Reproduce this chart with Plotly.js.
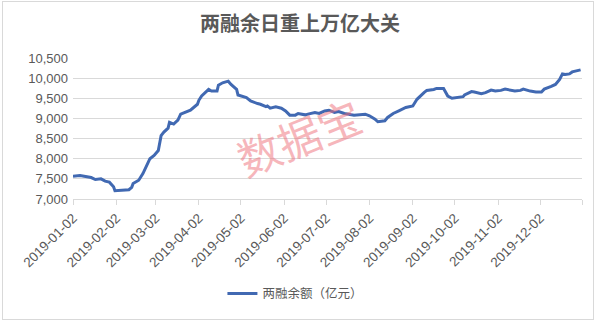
<!DOCTYPE html>
<html>
<head>
<meta charset="utf-8">
<script src="https://cdn.plot.ly/plotly-3.0.1.min.js"></script>
<style>
html,body{margin:0;padding:0;background:#fff;}
#wrap{position:relative;width:600px;height:321px;}
#chart{width:600px;height:321px;}
#border{position:absolute;left:2px;top:1px;width:590px;height:317px;border:1px solid #d9d9d9;pointer-events:none;}
</style>
</head>
<body>
<div id="wrap"><div id="chart"></div><div id="border"></div></div>
<script>
const chartTitle = '两融余日重上万亿大关';
const seriesName = '两融余额（亿元）';
const watermark = '数据宝';

const dates = [
'2019-01-02','2019-01-04','2019-01-07','2019-01-10','2019-01-15','2019-01-18','2019-01-22','2019-01-25','2019-01-28','2019-01-31',
'2019-02-01','2019-02-11','2019-02-13','2019-02-14','2019-02-18','2019-02-21','2019-02-26','2019-03-01','2019-03-04','2019-03-06',
'2019-03-08','2019-03-11','2019-03-12','2019-03-15','2019-03-18','2019-03-20','2019-03-25','2019-03-27','2019-04-01','2019-04-02',
'2019-04-04','2019-04-09','2019-04-11','2019-04-15','2019-04-16','2019-04-19','2019-04-23','2019-04-25','2019-04-29','2019-04-30',
'2019-05-06','2019-05-09','2019-05-14','2019-05-16','2019-05-20','2019-05-21','2019-05-23','2019-05-27','2019-05-31','2019-06-03',
'2019-06-06','2019-06-10','2019-06-12','2019-06-17','2019-06-19','2019-06-24','2019-06-27','2019-07-01','2019-07-04','2019-07-08',
'2019-07-11','2019-07-15','2019-07-22','2019-07-25','2019-07-30','2019-08-02','2019-08-06','2019-08-08','2019-08-13','2019-08-15',
'2019-08-19','2019-08-23','2019-08-28','2019-09-02','2019-09-05','2019-09-10','2019-09-12','2019-09-17','2019-09-19','2019-09-24',
'2019-09-27','2019-09-30','2019-10-08','2019-10-09','2019-10-11','2019-10-14','2019-10-16','2019-10-21','2019-10-24','2019-10-28',
'2019-10-31','2019-11-04','2019-11-07','2019-11-11','2019-11-14','2019-11-18','2019-11-20','2019-11-25','2019-11-29','2019-12-03',
'2019-12-05','2019-12-10','2019-12-13','2019-12-16','2019-12-18','2019-12-20','2019-12-23','2019-12-25','2019-12-31'
];
const balance = [
7565,7570,7582,7565,7533,7484,7500,7443,7418,7304,
7206,7230,7290,7386,7467,7632,8000,8081,8204,8573,
8660,8760,8902,8860,8959,9106,9172,9204,9352,9450,
9556,9720,9680,9680,9826,9885,9925,9843,9720,9581,
9517,9433,9369,9352,9295,9310,9254,9286,9254,9187,
9082,9082,9123,9089,9106,9148,9123,9187,9204,9148,
9172,9123,9082,9089,9106,9065,8983,8917,8942,9025,
9123,9187,9271,9310,9475,9640,9696,9720,9745,9745,
9556,9500,9540,9581,9615,9665,9655,9615,9640,9703,
9679,9696,9728,9696,9679,9696,9728,9679,9655,9655,
9728,9794,9843,9966,10106,10089,10106,10155,10205
];

const tickDates = ['2019-01-02','2019-02-02','2019-03-02','2019-04-02','2019-05-02','2019-06-02',
  '2019-07-02','2019-08-02','2019-09-02','2019-10-02','2019-11-02','2019-12-02','2020-01-01'];
const tickLabels = ['2019-01-02','2019-02-02','2019-03-02','2019-04-02','2019-05-02','2019-06-02',
  '2019-07-02','2019-08-02','2019-09-02','2019-10-02','2019-11-02','2019-12-02',''];
const yTicks = [7000,7500,8000,8500,9000,9500,10000,10500];

const trace = {
  x: dates, y: balance, type: 'scatter', mode: 'lines', name: seriesName,
  line: {color: '#4169B2', width: 3}
};

const layout = {
  width: 600, height: 321,
  margin: {l: 73, r: 18, t: 58, b: 120},
  paper_bgcolor: '#fff', plot_bgcolor: '#fff',
  font: {family: '"Liberation Sans", Arial, "Noto Sans CJK SC", sans-serif', color: '#595959'},
  title: {
    text: '<b>' + chartTitle + '</b>',
    font: {family: '"Noto Sans CJK SC", sans-serif', size: 20, color: '#595959'},
    x: 0.5, xanchor: 'center', y: 0.925, yanchor: 'middle'
  },
  xaxis: {
    type: 'date', range: ['2019-01-02', '2020-01-01'],
    tickmode: 'array', tickvals: tickDates, ticktext: tickLabels,
    tickangle: -45, tickfont: {size: 13.5, color: '#595959'},
    showgrid: false, zeroline: false,
    showline: true, linecolor: '#d9d9d9', linewidth: 1,
    ticks: 'outside', ticklen: 5, tickcolor: '#d9d9d9', tickwidth: 1
  },
  yaxis: {
    range: [7000, 10500], tickmode: 'array', tickvals: yTicks,
    tickformat: ',d', tickfont: {size: 13, color: '#595959'},
    showgrid: true, gridcolor: '#d9d9d9', gridwidth: 1,
    zeroline: false, showline: false, ticks: '', ticklabelstandoff: 4
  },
  showlegend: true,
  legend: {
    orientation: 'h', x: 0.437, xanchor: 'center', y: -0.673, yanchor: 'middle',
    font: {family: '"Noto Sans CJK SC", sans-serif', size: 12.5, color: '#595959'}
  },
  annotations: [{
    text: watermark, xref: 'paper', yref: 'paper',
    x: (298 - 73) / 509, y: (200.7 - 137) / 143, xanchor: 'center', yanchor: 'middle',
    showarrow: false, textangle: -22,
    font: {family: '"Noto Sans CJK SC", sans-serif', size: 43, color: 'rgba(238,110,120,0.5)'}
  }]
};

Plotly.newPlot('chart', [trace], layout, {displayModeBar: false, staticPlot: true});
</script>
</body>
</html>
